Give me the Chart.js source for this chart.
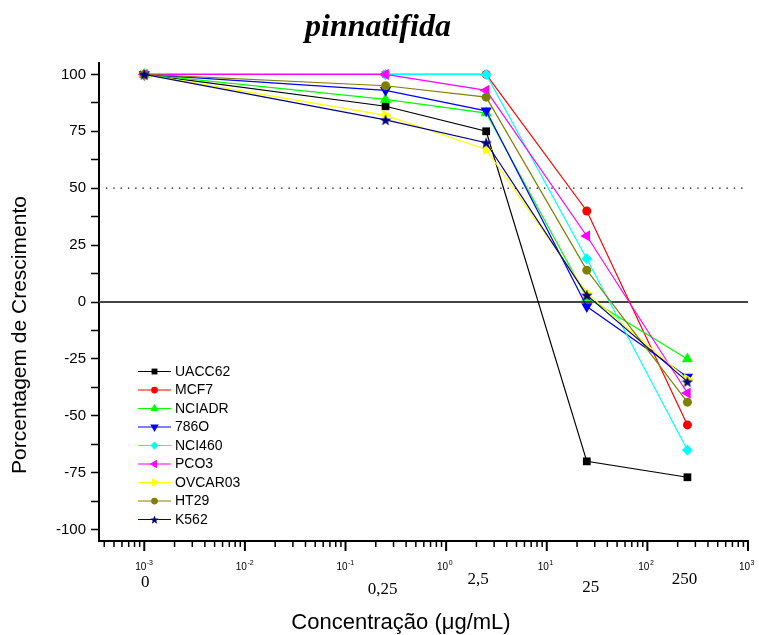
<!DOCTYPE html>
<html>
<head>
<meta charset="utf-8">
<script src="https://cdn.jsdelivr.net/npm/chart.js@4/dist/chart.umd.min.js"></script>
<style>
  html, body { margin: 0; padding: 0; background: #fff; }
  #wrap { width: 759px; height: 635px; }
</style>
</head>
<body>
<div id="wrap"><canvas id="chart" width="759" height="635"></canvas></div>
<script>
// Concentrations (ug/mL) and what is printed under the axis
const concentrations = [0.001, 0.25, 2.5, 25, 250];
const concLabels = ['0', '0,25', '2,5', '25', '250'];
const decades = [-3, -2, -1, 0, 1, 2, 3];

// Growth percentage per cell line
const cellLines = ['UACC62', 'MCF7', 'NCIADR', '786O', 'NCI460', 'PCO3', 'OVCAR03', 'HT29', 'K562'];
const uacc62 = [100, 86, 75, -70, -77];
const mcf7 = [100, 100, 100, 40, -54];
const nciadr = [100, 89, 83, 2, -25];
const c786o = [100, 93, 84, -2, -33];
const nci460 = [100, 100, 100, 19, -65];
const pco3 = [100, 100, 93, 29, -40];
const ovcar03 = [100, 82, 67, 4, -34];
const ht29 = [100, 95, 90, 14, -44];
const k562 = [100, 80, 70, 3, -35];

const seriesValues = [uacc62, mcf7, nciadr, c786o, nci460, pco3, ovcar03, ht29, k562];
const colors = ['#000000', '#ff0000', '#00ff00', '#0000ff', '#00ffff', '#ff00ff', '#ffff00', '#808000', '#000080'];

// small filled star for K562
function makeStar(color, size) {
    const c = document.createElement('canvas');
    c.width = size; c.height = size;
    const g = c.getContext('2d');
    const m = size / 2;
    g.fillStyle = color;
    g.beginPath();
    for (let i = 0; i < 10; i++) {
        const r = i % 2 === 0 ? m : m * 0.42;
        const a = -Math.PI / 2 + i * Math.PI / 5;
        const px = m + r * Math.cos(a), py = m + 0.6 + r * Math.sin(a);
        if (i === 0) g.moveTo(px, py); else g.lineTo(px, py);
    }
    g.closePath();
    g.fill();
    return c;
}

const markers = [
    { style: 'rect', rot: 0, r: 5.5 },
    { style: 'circle', rot: 0, r: 4.5 },
    { style: 'triangle', rot: 0, r: 6.5 },
    { style: 'triangle', rot: 180, r: 6.5 },
    { style: 'rectRot', rot: 0, r: 5.5 },
    { style: 'triangle', rot: -90, r: 6.5 },
    { style: 'triangle', rot: 90, r: 6.5 },
    { style: 'circle', rot: 0, r: 4.5 },
    { style: makeStar('#000080', 12), rot: 0, r: 6 }
];
const legendStar = makeStar('#000080', 9);

const datasets = cellLines.map((name, i) => ({
    label: name,
    data: concentrations.map((c, j) => ({ x: c, y: seriesValues[i][j] })),
    borderColor: colors[i],
    backgroundColor: colors[i],
    borderWidth: 1.2,
    pointStyle: markers[i].style,
    rotation: markers[i].rot,
    pointRadius: markers[i].r,
    pointBorderWidth: 0,
    order: cellLines.length - 1 - i
}));

const SANS = '"Liberation Sans", Arial, sans-serif';
const SERIF = '"Liberation Serif", "Times New Roman", serif';

// Label placement tweaks for the second row under the x axis
const concLabelDx = [1, -3, -8, 4, -3];
const concLabelDy = [0, 7, -3, 5, -3];

const extras = {
    id: 'extras',
    beforeDatasetsDraw(chart) {
        const ctx = chart.ctx;
        const ys = chart.scales.y;
        const area = chart.chartArea;
        ctx.save();
        // 50% dotted line
        ctx.strokeStyle = '#000';
        ctx.lineWidth = 1.3;
        ctx.setLineDash([1.3, 6]);
        ctx.beginPath();
        ctx.moveTo(area.left + 7, ys.getPixelForValue(50));
        ctx.lineTo(area.right - 3, ys.getPixelForValue(50));
        ctx.stroke();
        // zero line
        ctx.setLineDash([]);
        ctx.strokeStyle = '#444';
        ctx.lineWidth = 2;
        ctx.beginPath();
        ctx.moveTo(area.left, ys.getPixelForValue(0));
        ctx.lineTo(area.right, ys.getPixelForValue(0));
        ctx.stroke();
        ctx.restore();
    },
    afterDraw(chart) {
        const ctx = chart.ctx;
        const xs = chart.scales.x;
        const area = chart.chartArea;
        ctx.save();

        // x ticks (log minor + decade majors)
        ctx.strokeStyle = '#000';
        for (let e = -4; e <= 3; e++) {
            for (let s = 1; s <= 9; s++) {
                const v = s * Math.pow(10, e);
                if (v < xs.min || v > xs.max * 1.0001) continue;
                const px = xs.getPixelForValue(v);
                const major = s === 1;
                ctx.lineWidth = major ? 2 : 1.5;
                ctx.beginPath();
                ctx.moveTo(px, area.bottom);
                ctx.lineTo(px, area.bottom + (major ? 10 : 6));
                ctx.stroke();
            }
        }

        // decade labels 10^n
        ctx.fillStyle = '#000';
        ctx.textBaseline = 'alphabetic';
        decades.forEach(e => {
            const px = xs.getPixelForValue(Math.pow(10, e));
            ctx.font = '10px ' + SANS;
            ctx.textAlign = 'right';
            ctx.fillText('10', px + 2, 570);
            ctx.font = '7px ' + SANS;
            ctx.textAlign = 'left';
            ctx.fillText(e < 0 ? '-' + (-e) : String(e), px + 2.5, 565);
        });

        // concentration labels
        ctx.font = '17px ' + SERIF;
        ctx.textAlign = 'center';
        ctx.textBaseline = 'middle';
        concentrations.forEach((c, i) => {
            const px = xs.getPixelForValue(c);
            ctx.fillText(concLabels[i], px + concLabelDx[i], 583 + concLabelDy[i]);
        });

        // axis titles
        ctx.font = '22px ' + SANS;
        ctx.fillText('Concentração (μg/mL)', 401, 623);
        ctx.font = '21px ' + SANS;
        ctx.save();
        ctx.translate(20, 335);
        ctx.rotate(-Math.PI / 2);
        ctx.fillText('Porcentagem de Crescimento', 0, 0);
        ctx.restore();

        // title
        ctx.font = 'italic bold 32px ' + SERIF;
        ctx.fillText('pinnatifida', 378, 28);

        // legend inside the plot
        ctx.font = '14px ' + SANS;
        ctx.textAlign = 'left';
        chart.data.datasets.forEach((ds, i) => {
            const ly = 371.5 + i * 18.5;
            ctx.strokeStyle = ds.borderColor;
            ctx.lineWidth = 1;
            ctx.beginPath();
            ctx.moveTo(138, ly);
            ctx.lineTo(171, ly);
            ctx.stroke();
            ctx.fillStyle = ds.backgroundColor;
            const isStar = typeof ds.pointStyle !== 'string';
            Chart.helpers.drawPoint(ctx, {
                pointStyle: isStar ? legendStar : ds.pointStyle,
                rotation: ds.rotation,
                radius: ds.pointRadius * 0.75,
                borderWidth: 0
            }, 154.5, ly);
            ctx.fillStyle = '#000';
            ctx.fillText(ds.label, 175, ly + 0.5);
        });
        ctx.restore();
    }
};

const ctx = document.getElementById('chart').getContext('2d');
window.chart = new Chart(ctx, {
    type: 'line',
    data: { datasets: datasets },
    options: {
        responsive: false,
        animation: false,
        layout: { padding: { top: 63, right: 11, left: 0, bottom: 0 } },
        plugins: {
            legend: { display: false },
            title: { display: false },
            tooltip: { enabled: false }
        },
        scales: {
            x: {
                type: 'logarithmic',
                min: Math.pow(10, -3.45),
                max: 1000,
                grid: { display: false },
                ticks: { display: false },
                border: { display: true, color: '#000', width: 2 },
                afterFit(scale) { scale.height = 94; }
            },
            y: {
                min: -105,
                max: 105,
                afterBuildTicks(scale) {
                    const t = [];
                    for (let v = -100; v <= 100; v += 12.5) t.push({ value: v });
                    scale.ticks = t;
                },
                grid: {
                    drawOnChartArea: false,
                    drawTicks: true,
                    tickLength: 8,
                    tickColor: '#000',
                    tickWidth: 1.5
                },
                border: { display: true, color: '#000', width: 2 },
                ticks: {
                    autoSkip: false,
                    padding: 5,
                    color: '#000',
                    font: { family: SANS, size: 15 },
                    callback: v => (v % 25 === 0 ? String(v) : '')
                },
                afterFit(scale) { scale.width = 99; }
            }
        }
    },
    plugins: [extras]
});
</script>
</body>
</html>
